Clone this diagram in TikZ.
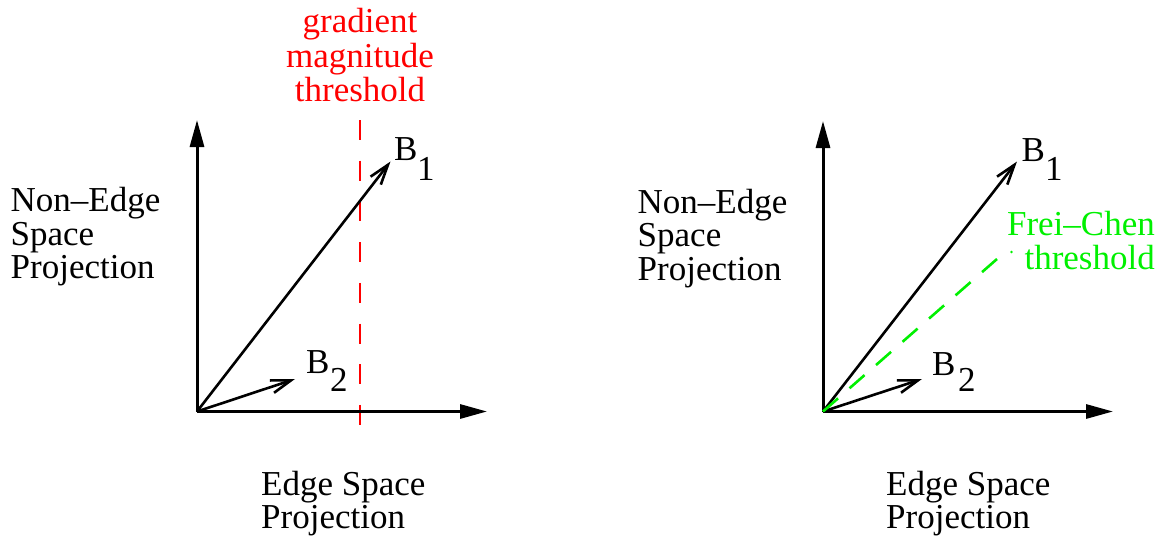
\documentclass[tikz,border=0pt]{standalone}
\usepackage{fontspec}
\setmainfont{LiberationSerif}[Extension=.ttf,UprightFont=*-Regular]
\usetikzlibrary{arrows.meta}
\definecolor{thrred}{RGB}{255,0,0}
\definecolor{thrgreen}{RGB}{0,240,0}
\begin{document}
\begin{tikzpicture}[x=1pt,y=-1pt,
  axis/.style={line width=3pt,-{Triangle[length=27pt,width=14pt]}},
  vec/.style={line width=2.6pt,-{Straight Barb[length=20pt,width=13pt]}},
  lbl/.style={inner sep=0pt,anchor=base west,font=\fontsize{35}{33.5}\selectfont},
  mlbl/.style={inner sep=0pt,font=\fontsize{35}{33.5}\selectfont},
  reddash/.style={thrred,line width=2.6pt,dash pattern=on 20pt off 20.7pt},
  greendash/.style={thrgreen,line width=2.6pt,dash pattern=on 20pt off 15.25pt}]
\useasboundingbox (0,0) rectangle (1166,535);

% ---------- left panel ----------
\coordinate (O1) at (197,411.5);
\coordinate (Y1) at (197,120);
\coordinate (X1) at (487,411.5);
\coordinate (B1L) at (390.5,161.5);
\coordinate (B2L) at (295,379);
\coordinate (RT) at (360,120);
\coordinate (RB) at (360,425);

\draw[reddash] (RT) -- (RB);
\draw[axis] (O1) -- (Y1);
\draw[axis] (O1) -- (X1);
\draw[vec] (O1) -- (B1L);
\draw[vec] (O1) -- (B2L);

\node[lbl] (b1L) at (394,160) {B};
\node[lbl] (s1L) at (417,180.5) {1};
\node[lbl] (b2L) at (306,373.5) {B};
\node[lbl] (s2L) at (330,391.5) {2};

\node[mlbl,anchor=base,text=thrred] (grad) at (360,33)
  {\begin{tabular}[t]{@{}c@{}}gradient\\magnitude\\threshold\end{tabular}};
\node[mlbl,anchor=base west] (nonL) at (10.5,211.5)
  {\begin{tabular}[t]{@{}l@{}}Non–Edge\\Space\\Projection\end{tabular}};
\node[mlbl,anchor=base west] (edgL) at (261,495)
  {\begin{tabular}[t]{@{}l@{}}Edge Space\\Projection\end{tabular}};

% ---------- right panel ----------
\coordinate (O2) at (823,411.5);
\coordinate (Y2) at (823,121);
\coordinate (X2) at (1113,411.5);
\coordinate (B1R) at (1017,161.5);
\coordinate (B2R) at (922,379);
\coordinate (GT) at (997,259);

\draw[axis] (O2) -- (Y2);
\draw[axis] (O2) -- (X2);
\draw[vec] (O2) -- (B1R);
\draw[vec] (O2) -- (B2R);
\draw[greendash] (O2) -- (GT);
\fill[thrgreen] (1011.5,252) circle (1.3pt);

\node[lbl] (b1R) at (1021.5,161.5) {B};
\node[lbl] (s1R) at (1045,180) {1};
\node[lbl] (b2R) at (932,375) {B};
\node[lbl] (s2R) at (958,391.5) {2};

\node[mlbl,anchor=base east,text=thrgreen] (frei) at (1155,235)
  {\begin{tabular}[t]{@{}r@{}}Frei–Chen\\threshold\end{tabular}};
\node[mlbl,anchor=base west] (nonR) at (637.5,213)
  {\begin{tabular}[t]{@{}l@{}}Non–Edge\\Space\\Projection\end{tabular}};
\node[mlbl,anchor=base west] (edgR) at (886,495)
  {\begin{tabular}[t]{@{}l@{}}Edge Space\\Projection\end{tabular}};
\end{tikzpicture}
\end{document}
